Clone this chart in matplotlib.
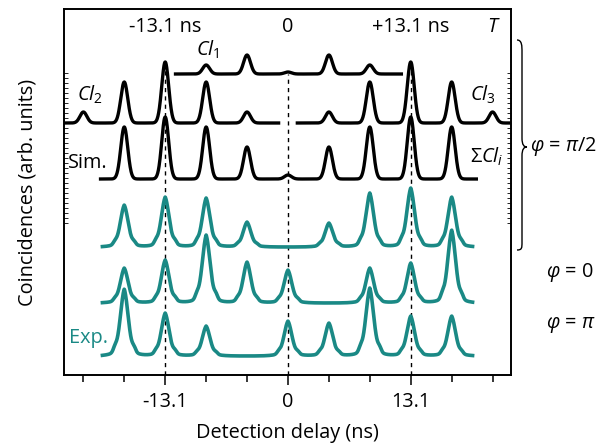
import numpy as np
import matplotlib.pyplot as plt
from matplotlib.path import Path
from matplotlib.patches import PathPatch
from matplotlib.ticker import FixedLocator

plt.rcParams['font.family'] = ['Open Sans', 'DejaVu Sans']
plt.rcParams['mathtext.fontset'] = 'custom'
plt.rcParams['mathtext.rm'] = 'Open Sans'
plt.rcParams['mathtext.it'] = 'Open Sans:italic'

TEAL = '#1a8985'

# peak positions (ns), multiples of T/3
pos_cl1 = [-8.73, -4.37, 0.0, 4.37, 8.73]
pos_cl2 = [-21.83, -17.47, -13.1, -8.73, -4.37]
pos_cl3 = [4.37, 8.73, 13.1, 17.47, 21.83]
pos_all = [-17.47, -13.1, -8.73, -4.37, 0.0, 4.37, 8.73, 13.1, 17.47]

# simulated peak heights (arb. units)
h_cl1 = [9, 19, 2, 19, 9]
h_cl2 = [11, 41, 61, 41, 11]
h_cl3 = [11, 41, 61, 41, 11]
h_sim = [52, 62, 52, 32, 4, 32, 52, 62, 52]

# measured peak heights (arb. units)
h_exp_half = [42, 50, 49, 25, 0, 24, 54, 59, 50]
h_exp_zero = [35, 43, 68, 41, 33, 0, 35, 40, 73]
h_exp_pi = [67, 43, 30, 0, 35, 33, 68, 40, 40]

# vertical offsets of each trace
base_cl1, base_cl23, base_sim = 301, 252, 196
base_exp = [128, 72, 19]


def sim_trace(x, pos, heights):
    y = np.zeros_like(x)
    for p, h in zip(pos, heights):
        y += h * np.exp(-0.5 * ((x - p) / 0.37) ** 2)
    return y


def exp_trace(x, pos, heights):
    y = np.zeros_like(x)
    for p, h in zip(pos, heights):
        d = x - p
        y += h * (0.72 * np.exp(-0.5 * (d / 0.42) ** 2) + 0.28 * np.exp(-np.abs(d) / 0.7))
        y += 0.06 * h * (np.exp(-0.5 * ((d + 1.0) / 0.18) ** 2) + np.exp(-0.5 * ((d - 1.05) / 0.18) ** 2))
    return y


fig = plt.figure(figsize=(6.03, 4.45), dpi=100)
ax = fig.add_axes([64 / 603, 70 / 445, 447 / 603, 366 / 445])

# dashed guides
ax.vlines([-13.1, 0, 13.1], 0, [312, 301, 312], colors='black', lw=1.0,
          linestyles=(0, (3, 3)), zorder=1)

x1 = np.linspace(-12.0, 12.1, 800)
ax.plot(x1, base_cl1 + sim_trace(x1, pos_cl1, h_cl1), color='black', lw=2.4)
x2 = np.linspace(-24.5, -1.0, 1200)
ax.plot(x2, base_cl23 + sim_trace(x2, pos_cl2, h_cl2), color='black', lw=2.4)
x3 = np.linspace(1.0, 24.5, 1200)
ax.plot(x3, base_cl23 + sim_trace(x3, pos_cl3, h_cl3), color='black', lw=2.4)
xs = np.linspace(-20.0, 20.1, 1600)
ax.plot(xs, base_sim + sim_trace(xs, pos_all, h_sim), color='black', lw=2.4)

xe = np.linspace(-19.8, 19.7, 1600)
for b, h in zip(base_exp, [h_exp_half, h_exp_zero, h_exp_pi]):
    ax.plot(xe, b + exp_trace(xe, pos_all, h), color=TEAL, lw=2.6)

ax.set_xlim(-23.9, 23.8)
ax.set_ylim(0, 366)

fs = 14.3
ax.set_xticks([-13.1, 0, 13.1])
ax.set_xticklabels(['-13.1', '0', '13.1'])
ax.xaxis.set_minor_locator(FixedLocator([-21.83, -17.47, -8.73, -4.37, 4.37, 8.73, 17.47, 21.83]))
ax.tick_params(axis='x', which='major', direction='out', length=7, width=1.1, labelsize=fs, pad=5)
ax.tick_params(axis='x', which='minor', direction='out', length=5, width=1.1)
ax.set_yticks([])
ax.yaxis.set_minor_locator(FixedLocator(np.arange(152, 303, 5)))
ax.tick_params(axis='y', which='minor', direction='in', length=3, width=0.6,
               left=True, right=True)
for s in ax.spines.values():
    s.set_linewidth(1.4)

ax.set_xlabel('Detection delay (ns)', fontsize=fs, labelpad=8)
ax.set_ylabel('Coincidences (arb. units)', fontsize=fs, labelpad=16)

ax.text(-13.1, 348, '-13.1 ns', ha='center', va='center', fontsize=fs)
ax.text(0, 348, '0', ha='center', va='center', fontsize=fs)
ax.text(13.1, 348, '+13.1 ns', ha='center', va='center', fontsize=fs)
ax.text(22.0, 348, '$T$', ha='center', va='center', fontsize=fs)
ax.text(-8.6, 325, '$Cl_1$', ha='center', va='center', fontsize=fs)
ax.text(-21.1, 280, '$Cl_2$', ha='center', va='center', fontsize=fs)
ax.text(20.8, 280, '$Cl_3$', ha='center', va='center', fontsize=fs)
ax.text(-21.4, 212, 'Sim.', ha='center', va='center', fontsize=fs)
ax.text(21.2, 218, r'$\Sigma Cl_i$', ha='center', va='center', fontsize=fs)
ax.text(-21.3, 37, 'Exp.', ha='center', va='center', fontsize=fs, color=TEAL)


def fpt(px, py):
    return (px / 603, 1 - py / 445)


# curly brace grouping the pi/2 traces
verts = [fpt(517, 40), fpt(522, 40), fpt(522, 46), fpt(522, 52),
         fpt(522, 138),
         fpt(522, 145), fpt(524, 147), fpt(527, 147),
         fpt(524, 147), fpt(522, 149), fpt(522, 156),
         fpt(522, 242),
         fpt(522, 248), fpt(522, 250), fpt(517, 250)]
codes = [Path.MOVETO, Path.CURVE4, Path.CURVE4, Path.CURVE4,
         Path.LINETO,
         Path.CURVE4, Path.CURVE4, Path.CURVE4,
         Path.CURVE4, Path.CURVE4, Path.CURVE4,
         Path.LINETO,
         Path.CURVE4, Path.CURVE4, Path.CURVE4]
fig.patches.append(PathPatch(Path(verts, codes), transform=fig.transFigure,
                             fill=False, lw=1.0, color='black'))

fig.text(*fpt(530, 147), r'$\varphi$ = $\pi$/2', ha='left', va='center', fontsize=fs)
fig.text(*fpt(546, 272), r'$\varphi$ = 0', ha='left', va='center', fontsize=fs)
fig.text(*fpt(546, 325), r'$\varphi$ = $\pi$', ha='left', va='center', fontsize=fs)

fig.savefig('out.png', dpi=100)
